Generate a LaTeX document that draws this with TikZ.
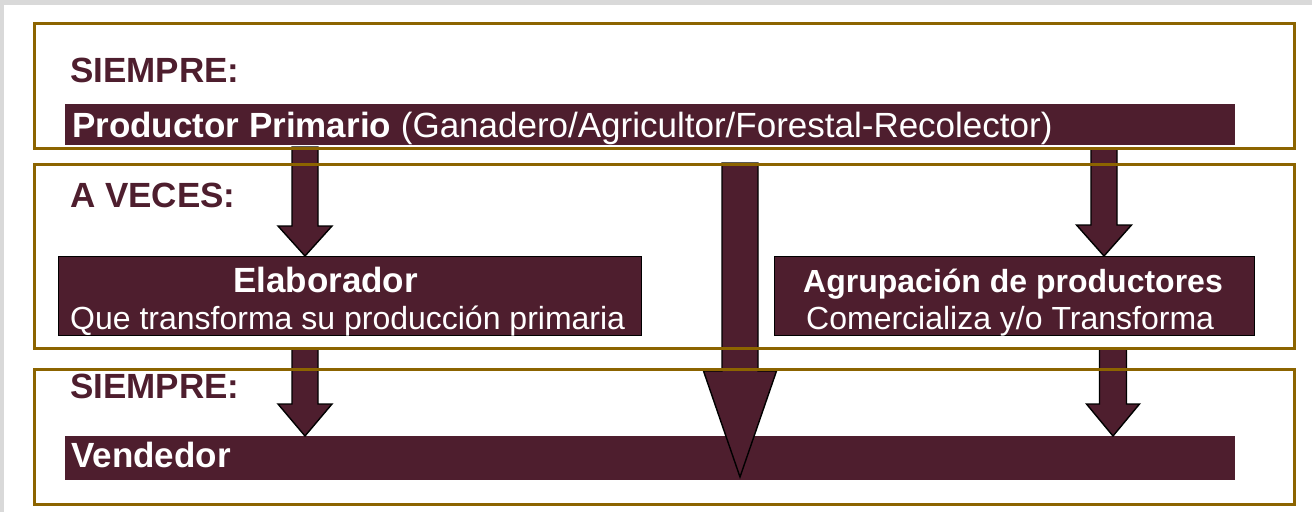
\documentclass[tikz,border=0pt]{standalone}
\usepackage{fontspec}
\setmainfont{Liberation Sans}
\usetikzlibrary{calc}
\definecolor{granate}{RGB}{78,30,46}
\definecolor{oro}{RGB}{140,100,0}
\definecolor{gris}{RGB}{217,217,217}
% flecha gruesa: inicio, punta, medio cuerpo, media cabeza, largo cabeza
\newcommand{\flecha}[5]{%
  \filldraw[flecha] ($(#1)+(-#3,0)$) -- ($(#2)+(-#3,-#5)$) -- ($(#2)+(-#4,-#5)$)
    -- (#2) -- ($(#2)+(#4,-#5)$) -- ($(#2)+(#3,-#5)$) -- ($(#1)+(#3,0)$) -- cycle;}

\begin{document}
\begin{tikzpicture}[x=1pt,y=-1pt]
    \tikzstyle{marco}=[draw=oro,line width=3pt,inner sep=0pt,anchor=north west,minimum width=1260pt]
    \tikzstyle{barra}=[fill=granate,inner sep=0pt,anchor=north west]
    \tikzstyle{caja}=[barra,draw=black,line width=1.2pt]
    \tikzstyle{flecha}=[fill=granate,draw=black,line width=1.4pt,line join=miter]
    \tikzstyle{titulo}=[text=granate,font=\bfseries\fontsize{35}{40}\selectfont,anchor=base west,inner sep=0pt]
    \tikzstyle{grande}=[text=white,font=\fontsize{35}{40}\selectfont,anchor=base west,inner sep=0pt]
    \tikzstyle{chico}=[text=white,font=\fontsize{32}{36}\selectfont,anchor=base west,inner sep=0pt]
    \useasboundingbox (0,0) rectangle (1312,512);
    \fill[gris] (0,0) rectangle (1312,5);
    \fill[gris] (0,0) rectangle (4,512);
    % barras y cajas
    \node[barra,minimum width=1170pt,minimum height=41pt] (prod) at (65,104) {};
    \node[caja,minimum width=583pt,minimum height=79pt] (elab) at (58,256) {};
    \node[caja,minimum width=480pt,minimum height=79pt] (agru) at (774,256) {};
    \node[barra,minimum width=1170pt,minimum height=44pt] (vend) at (65,436) {};
    % textos
    \node[titulo] (siempre1) at (70,82) {SIEMPRE:};
    \node[grande] (tprod) at (72,137) {\textbf{Productor Primario} (Ganadero/Agricultor/Forestal-Recolector)};
    \node[titulo] (aveces) at (70,207) {A VECES:};
    \node[grande] (telab) at (233,292) {\textbf{Elaborador}};
    \node[chico] (selab) at (70,329) {Que transforma su producción primaria};
    \node[chico] (tagru) at (803,292) {\textbf{Agrupación de productores}};
    \node[chico] (sagru) at (806,329) {Comercializa y/o Transforma};
    \node[titulo] (siempre2) at (70,398) {SIEMPRE:};
    \node[grande] (tvend) at (71,467) {\textbf{Vendedor}};
    % flechas
    \coordinate (s1) at (305,147);
    \coordinate (p1) at (305,0 |- elab.north);
    \coordinate (s2) at (740,163);
    \coordinate (p2) at (740,477);
    \coordinate (s3) at (1104,149);
    \coordinate (p3) at (1104,0 |- agru.north);
    \coordinate (s4) at (305,348);
    \coordinate (p4) at (305,0 |- vend.north);
    \coordinate (s5) at (1113,348);
    \coordinate (p5) at (1113,0 |- vend.north);
    \flecha{s1}{p1}{13}{27}{30}
    \flecha{s2}{p2}{18}{36.5}{106}
    \flecha{s3}{p3}{13}{27.5}{31}
    \flecha{s4}{p4}{13}{27}{32}
    \flecha{s5}{p5}{13.5}{26.5}{32}
    % marcos
    \node[marco,minimum height=125pt] (m1) at (33,22) {};
    \node[marco,minimum height=184pt] (m2) at (33,163) {};
    \node[marco,minimum height=135pt] (m3) at (33,368) {};
\end{tikzpicture}
\end{document}
